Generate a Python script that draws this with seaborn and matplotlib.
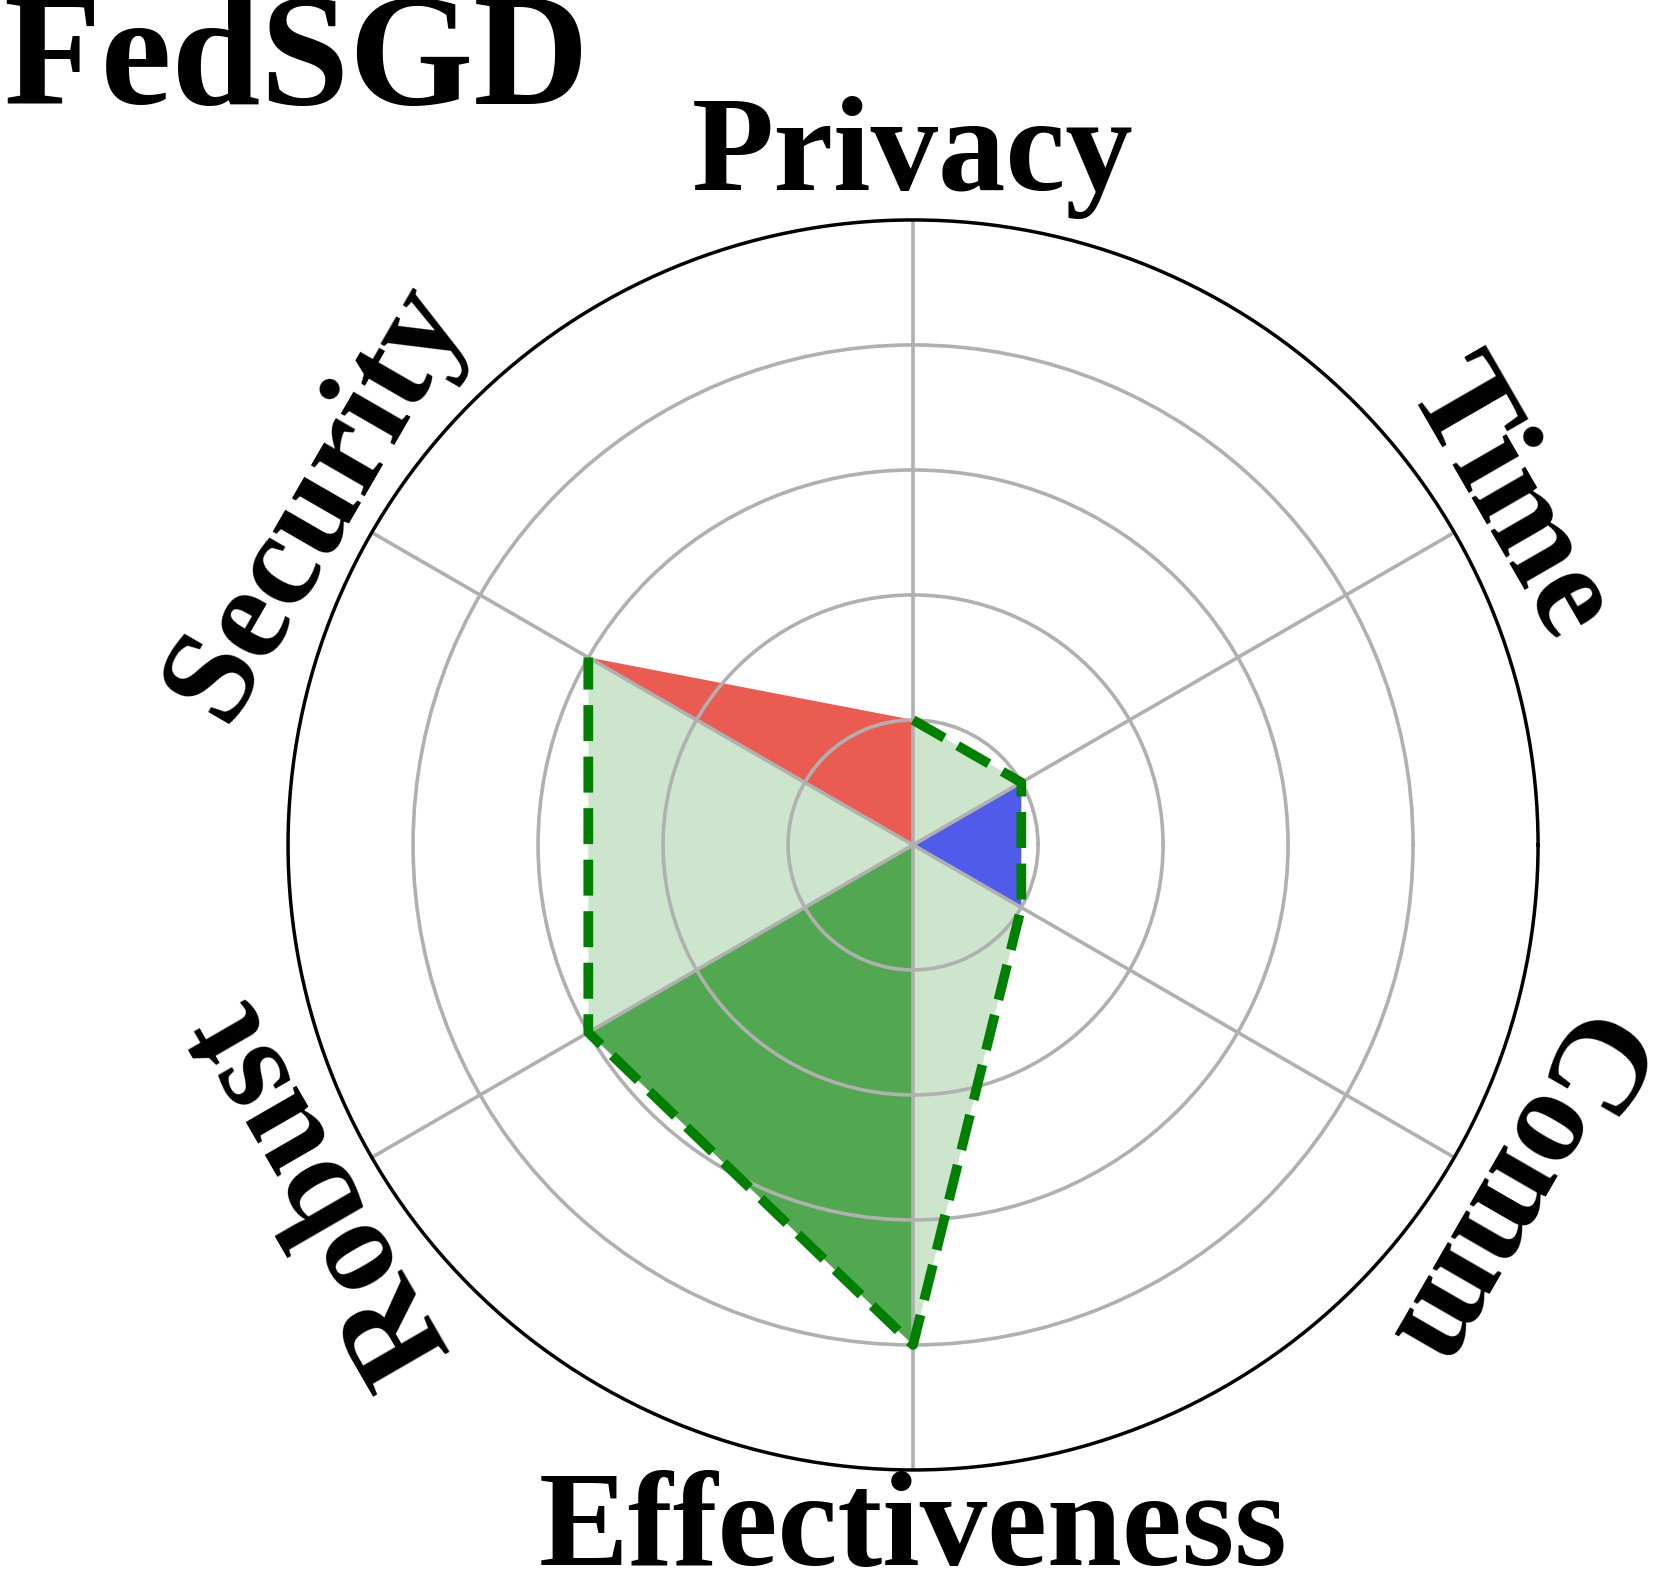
import numpy as np
import pandas as pd
import matplotlib
matplotlib.use("Agg")
import matplotlib.pyplot as plt
import seaborn as sns

# ==========================================
# Data
# ==========================================
categories = ["Privacy", "Time", "Comm", "Effectiveness", "Robust", "Security"]
scores = [1, 1, 1, 4, 3, 3]
label_rotation = [0, -60, -120, 0, 120, 60]
# sector highlights: (from category, to category, colour)
sectors = [("Security", "Privacy", "red"),
           ("Time", "Comm", "blue"),
           ("Effectiveness", "Robust", "green")]
title = "FedSGD"

# ==========================================
# Style
# ==========================================
sns.set_theme(style="white")
plt.rcParams["font.family"] = ["Liberation Serif", "DejaVu Serif"]
plt.rcParams["font.weight"] = "bold"
plt.rcParams["text.color"] = "black"

n = len(categories)
angles = [(np.pi / 2 - i * 2 * np.pi / n) % (2 * np.pi) for i in range(n)]
ang = dict(zip(categories, angles))
val = dict(zip(categories, scores))

df = pd.DataFrame({"angle": angles + angles[:1], "score": scores + scores[:1]})

fig = plt.figure(figsize=(16.61, 15.95), dpi=100)
ax = fig.add_axes([0.1734, 0.0784, 0.7526, 0.7837], projection="polar")
ax.set_axisbelow("line")  # grid drawn over the fills

# whole polygon, light fill
ax.fill(df["angle"], df["score"], color="green", alpha=0.2, linewidth=0, zorder=0.2)

# highlighted sectors
for a, b, c in sectors:
    ax.fill([0, ang[a], ang[b]], [0, val[a], val[b]], color=c, alpha=0.6,
            linewidth=0, zorder=0.3)

# dashed outline
sns.lineplot(data=df, x="angle", y="score", sort=False, ax=ax, color="green",
             linestyle="--", linewidth=7, zorder=3)

ax.set_xlim(0, 2 * np.pi)
ax.set_ylim(0, 5)
ax.set_yticks([1, 2, 3, 4])
ax.set_yticklabels([])
ax.set_xticks(angles)
ax.set_xticklabels([])
ax.set_xlabel("")
ax.set_ylabel("")
ax.grid(True, color="#b0b0b0", linewidth=2.6)
ax.spines["polar"].set_color("black")
ax.spines["polar"].set_linewidth(2.5)

for c, a, rot in zip(categories, angles, label_rotation):
    ax.text(a, 5.5, c, fontsize=97, fontweight="bold", rotation=rot,
            rotation_mode="anchor", ha="center", va="center", color="black")

fig.text(0.002, 0.9345, title, fontsize=115, fontweight="bold",
         ha="left", va="baseline", color="black")

fig.savefig("out.png", dpi=100)
